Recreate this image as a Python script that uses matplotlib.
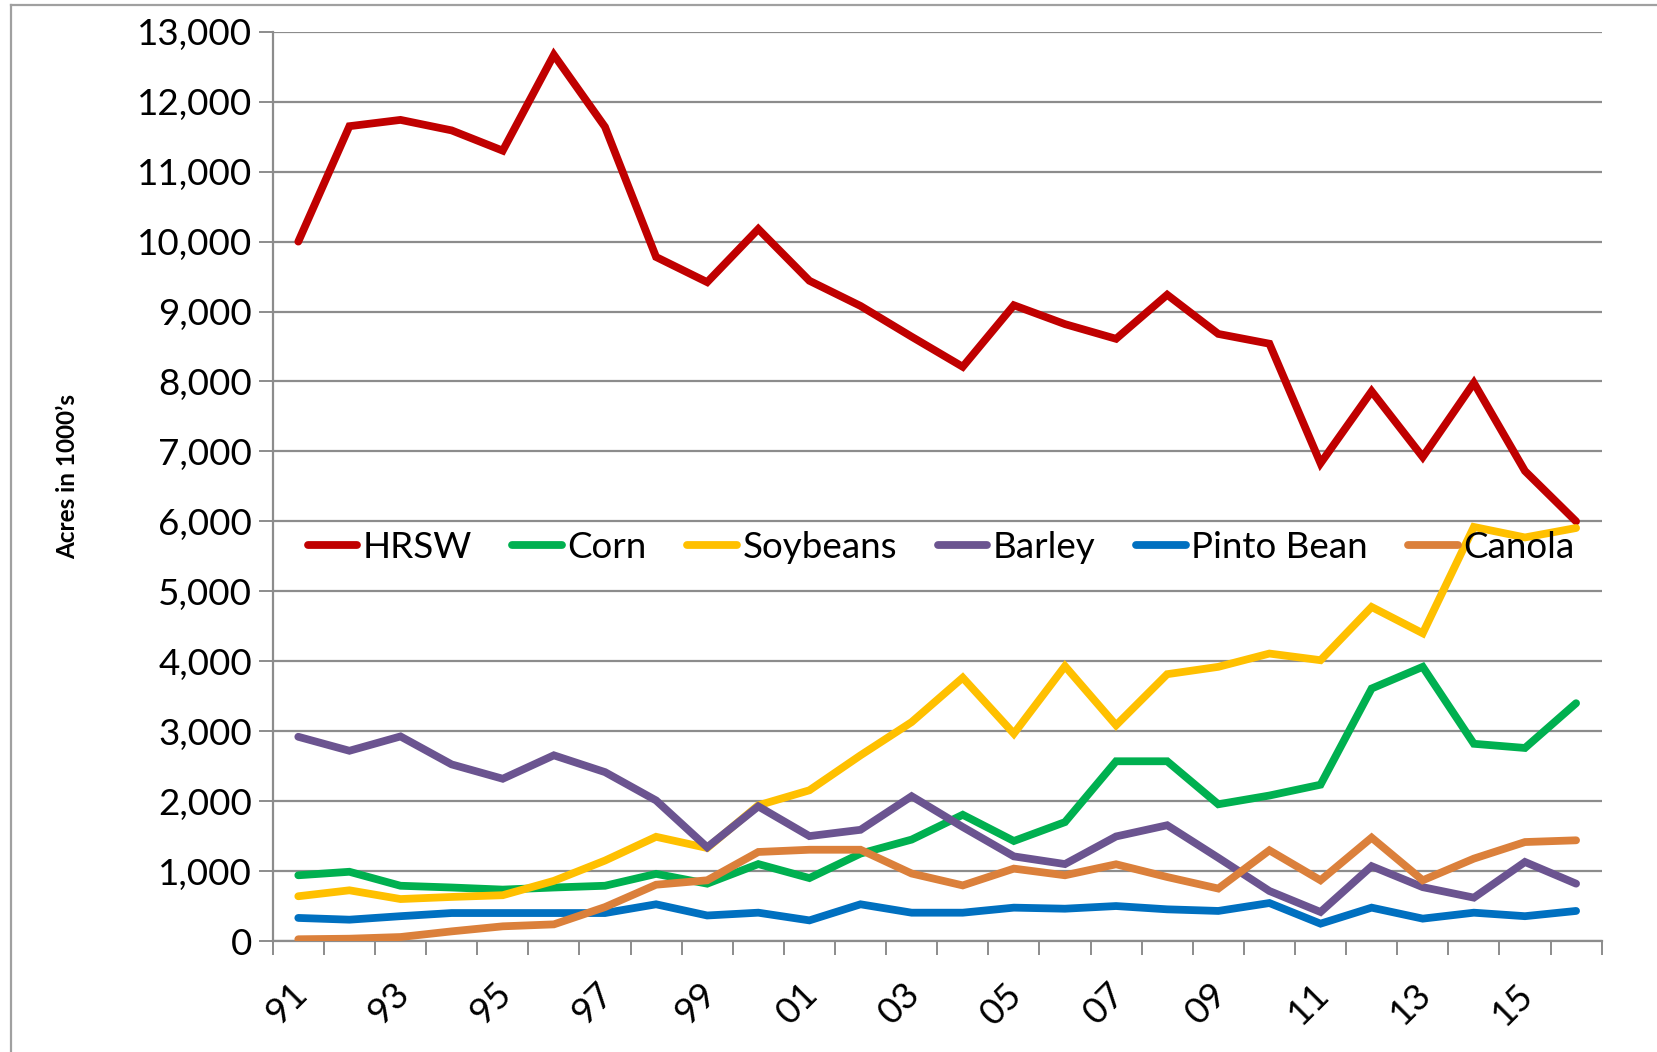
import matplotlib.pyplot as plt
import matplotlib.transforms as mtransforms
import numpy as np
from matplotlib.lines import Line2D

plt.rcParams['font.family'] = ['Lato', 'DejaVu Sans']

years = list(range(1991, 2017))
year_labels = ['%02d' % (y % 100) for y in years]

hrsw = [10000, 11650, 11740, 11590, 11300, 12670, 11640, 9780, 9420, 10180,
        9440, 9080, 8640, 8210, 9090, 8820, 8610, 9240, 8680, 8540,
        6830, 7860, 6920, 7980, 6720, 6000]
corn = [940, 990, 790, 765, 735, 765, 790, 960, 820, 1100,
        900, 1250, 1450, 1805, 1430, 1700, 2570, 2570, 1955, 2080,
        2235, 3610, 3920, 2820, 2760, 3400]
soybeans = [640, 725, 600, 630, 655, 860, 1150, 1490, 1330, 1940,
            2155, 2655, 3130, 3765, 2965, 3930, 3085, 3815, 3920, 4110,
            4015, 4776, 4400, 5920, 5770, 5905]
barley = [2920, 2720, 2925, 2525, 2320, 2655, 2415, 2010, 1340, 1925,
          1500, 1590, 2070, 1630, 1210, 1100, 1495, 1655, 1190, 715,
          415, 1070, 770, 620, 1130, 820]
pinto = [330, 305, 355, 400, 400, 400, 400, 525, 365, 405,
         295, 525, 405, 405, 477, 462, 500, 453, 430, 543,
         248, 477, 320, 405, 355, 430]
canola = [25, 33, 57, 138, 210, 238, 485, 805, 868, 1273,
          1305, 1305, 965, 795, 1035, 940, 1097, 915, 750, 1297,
          868, 1478, 868, 1178, 1415, 1440]

series = [('HRSW', hrsw, '#C00000'),
          ('Corn', corn, '#00B050'),
          ('Soybeans', soybeans, '#FFC000'),
          ('Barley', barley, '#6B5490'),
          ('Pinto Bean', pinto, '#0070C0'),
          ('Canola', canola, '#DB803B')]

fig = plt.figure(figsize=(16.58, 10.52), dpi=100)
ax = fig.add_axes([0.1645, 0.1055, 0.8015, 0.8643])

x = np.arange(len(years))
for name, vals, col in series:
    ax.plot(x, vals, color=col, lw=5.6, solid_capstyle='round',
            solid_joinstyle='miter', label=name, zorder=3)

grid_col = '#8C8C8C'
ax.set_xlim(-0.5, len(years) - 0.5)
ax.set_ylim(0, 13000)
ax.set_yticks(np.arange(0, 13001, 1000))
ax.set_yticklabels(['{:,}'.format(v) for v in range(0, 13001, 1000)])
ax.yaxis.grid(True, color=grid_col, lw=1.6)
ax.set_axisbelow(True)

ax.set_xticks(x[::2])
ax.set_xticklabels(year_labels[::2], rotation=45, ha='right', va='top',
                   rotation_mode='anchor')
ax.set_xticks(np.arange(-0.5, len(years), 1), minor=True)
ax.tick_params(axis='x', which='major', length=0, pad=24, labelsize=26.5)
ax.tick_params(axis='x', which='minor', length=10, width=1.4, color=grid_col,
               direction='out')
ax.tick_params(axis='y', length=10, width=1.4, color=grid_col, pad=5,
               labelsize=26.5)

# nudge the rotated year labels left so they sit under their points
shift = mtransforms.ScaledTranslation(-6 / 72, -2 / 72, fig.dpi_scale_trans)
for lbl in ax.get_xticklabels():
    lbl.set_transform(lbl.get_transform() + shift)

for side in ['top', 'right']:
    ax.spines[side].set_visible(False)
ax.spines['left'].set_color(grid_col)
ax.spines['bottom'].set_color(grid_col)
ax.spines['left'].set_linewidth(1.6)
ax.spines['bottom'].set_linewidth(1.6)

fig.text(0.0405, 0.547, 'Acres in 1000\u2019s', rotation=90, fontsize=17.5,
         fontweight='bold', ha='center', va='center')

handles = [Line2D([0], [0], color=c, lw=5.6, solid_capstyle='round')
           for _, _, c in series]
ax.legend(handles, [s[0] for s in series], ncol=6, frameon=False,
          loc='center', bbox_to_anchor=(0.503, 0.433), fontsize=26.5,
          handlelength=1.35, handletextpad=0.15, columnspacing=1.1)

# chart area border
fig.add_artist(Line2D([0.0065, 0.0065], [0, 0.995], color='#A0A0A0', lw=1.6,
                      transform=fig.transFigure))
fig.add_artist(Line2D([0.0065, 1.0], [0.995, 0.995], color='#A0A0A0', lw=1.6,
                      transform=fig.transFigure))

fig.savefig('out.png', dpi=100)
